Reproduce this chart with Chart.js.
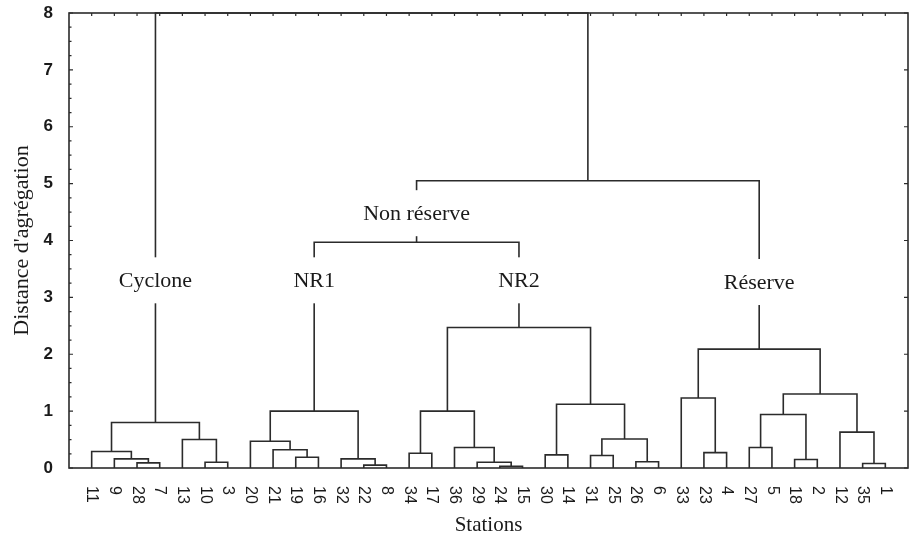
<!DOCTYPE html>
<html>
<head>
<meta charset="utf-8">
<script src="https://cdn.jsdelivr.net/npm/chart.js@4.4.0/dist/chart.umd.min.js"></script>
<style>
  html, body { margin: 0; padding: 0; background: #fff; }
  #wrap { width: 912px; height: 544px; }
</style>
</head>
<body>
<div id="wrap"><canvas id="dendro"></canvas></div>
<script>
// stations, in dendrogram leaf order
const stations = ['11', '9', '28', '7', '13', '10', '3', '20', '21', '19', '16', '32', '22', '8',
    '34', '17', '36', '29', '24', '15', '30', '14', '31', '25', '26', '6',
    '33', '23', '4', '27', '5', '18', '2', '12', '35', '1'];

// merges: node ids 0..35 are leaves, merge k creates node 36 + k
const mergeLeft  = [2, 1, 0, 5, 4, 38,   9, 8, 7, 12, 11, 44,   14, 18, 17, 16, 48, 20, 22, 24, 54, 53, 52,   47,   27, 26, 29, 31, 62, 34, 33, 64, 61,   59, 41];
const mergeRight = [3, 36, 37, 6, 39, 40, 10, 42, 43, 13, 45, 46, 15, 19, 49, 50, 51, 21, 23, 25, 55, 56, 57,  58,   28, 60, 30, 32, 63, 35, 65, 66, 67,   68, 69];
const mergeHeight = [0.09, 0.16, 0.29, 0.10, 0.50, 0.80,
    0.19, 0.32, 0.47, 0.05, 0.16, 1.00,
    0.26, 0.03, 0.10, 0.36, 1.00, 0.23, 0.22, 0.11, 0.51, 1.12, 2.47,
    3.97,
    0.27, 1.23, 0.36, 0.15, 0.94, 0.08, 0.63, 1.30, 2.09,
    5.05, 8.00];

// group names drawn on the branch above their node
const groupNames = ['Cyclone', 'NR1', 'NR2', 'Non réserve', 'Réserve'];
const groupNodes = [41, 47, 58, 59, 68];
const groupLabelY = [3.3, 3.3, 3.3, 4.48, 3.27];

const yTicks = [0, 1, 2, 3, 4, 5, 6, 7, 8];

// positions of every node (leaves at 1..n, merges at the middle of their children)
const nodeX = stations.map((s, i) => i + 1);
const nodeH = stations.map(() => 0);
mergeLeft.forEach((a, k) => {
    const b = mergeRight[k];
    nodeX.push((nodeX[a] + nodeX[b]) / 2);
    nodeH.push(mergeHeight[k]);
});

const lineColor = '#2b2b2b';

const datasets = mergeLeft.map((a, k) => {
    const b = mergeRight[k];
    const h = mergeHeight[k];
    return {
        data: [
            { x: nodeX[a], y: nodeH[a] },
            { x: nodeX[a], y: h },
            { x: nodeX[b], y: h },
            { x: nodeX[b], y: nodeH[b] }
        ],
        showLine: true,
        borderColor: lineColor,
        borderWidth: 1.6,
        pointRadius: 0,
        tension: 0,
        clip: false
    };
});

const decorPlugin = {
    id: 'decor',
    afterDatasetsDraw(chart) {
        const ctx = chart.ctx;
        const xs = chart.scales.x;
        const ys = chart.scales.y;
        const a = chart.chartArea;

        ctx.save();
        // group labels with a white gap on the branch
        ctx.font = '22px "Liberation Serif", "Times New Roman", serif';
        ctx.textAlign = 'center';
        ctx.textBaseline = 'middle';
        groupNames.forEach((name, i) => {
            const px = xs.getPixelForValue(nodeX[groupNodes[i]]);
            const py = ys.getPixelForValue(groupLabelY[i]);
            const w = ctx.measureText(name).width;
            ctx.fillStyle = '#fff';
            ctx.fillRect(px - w / 2 - 3, py - 23, w + 6, 46);
            ctx.fillStyle = '#1a1a1a';
            ctx.fillText(name, px, py + 1);
        });

        // frame
        ctx.strokeStyle = lineColor;
        ctx.lineWidth = 1.6;
        ctx.strokeRect(a.left, a.top, a.right - a.left, a.bottom - a.top);

        // inward ticks
        ctx.lineWidth = 1.2;
        ctx.beginPath();
        for (let v = 0; v <= 8; v += 0.25) {
            const py = ys.getPixelForValue(v);
            const major = Number.isInteger(v);
            ctx.moveTo(a.left, py);
            ctx.lineTo(a.left + (major ? 4 : 2.5), py);
            if (major) {
                ctx.moveTo(a.right, py);
                ctx.lineTo(a.right - 4, py);
            }
        }
        stations.forEach((s, i) => {
            const px = xs.getPixelForValue(i + 1);
            ctx.moveTo(px, a.top);
            ctx.lineTo(px, a.top + 3);
        });
        ctx.stroke();

        // station labels, rotated to read downwards
        ctx.fillStyle = '#1a1a1a';
        ctx.font = '16px "Liberation Sans", Arial, sans-serif';
        ctx.textAlign = 'left';
        ctx.textBaseline = 'middle';
        stations.forEach((s, i) => {
            const px = xs.getPixelForValue(i + 1);
            ctx.save();
            ctx.translate(px, a.bottom + 18);
            ctx.rotate(Math.PI / 2);
            ctx.fillText(s, 0, 0);
            ctx.restore();
        });
        ctx.restore();
    }
};

new Chart(document.getElementById('dendro'), {
    type: 'scatter',
    data: { datasets: datasets },
    options: {
        responsive: true,
        maintainAspectRatio: false,
        animation: false,
        layout: { padding: { left: 0, right: 4, top: 13, bottom: 0 } },
        plugins: {
            legend: { display: false },
            tooltip: { enabled: false }
        },
        scales: {
            x: {
                type: 'linear',
                min: 0,
                max: stations.length + 1,
                grid: { display: false, drawTicks: false },
                border: { display: false },
                ticks: { display: false },
                title: {
                    display: true,
                    text: 'Stations',
                    color: '#1a1a1a',
                    font: { family: '"Liberation Serif", "Times New Roman", serif', size: 21 },
                    padding: { top: 0, bottom: 6 }
                },
                afterFit(scale) { scale.height = 76; }
            },
            y: {
                type: 'linear',
                min: 0,
                max: 8,
                afterBuildTicks(scale) { scale.ticks = yTicks.map(v => ({ value: v })); },
                grid: { display: false, drawTicks: false },
                border: { display: false },
                ticks: {
                    padding: 16,
                    color: '#1a1a1a',
                    font: { family: '"Liberation Sans", Arial, sans-serif', size: 17, weight: 'bold' }
                },
                title: {
                    display: true,
                    text: "Distance d'agrégation",
                    color: '#1a1a1a',
                    font: { family: '"Liberation Serif", "Times New Roman", serif', size: 22 },
                    padding: { top: 9, bottom: 0 }
                },
                afterFit(scale) {
                    scale.width = 69;
                    scale.paddingTop = 0;
                    scale.paddingBottom = 0;
                }
            }
        }
    },
    plugins: [decorPlugin]
});
</script>
</body>
</html>
